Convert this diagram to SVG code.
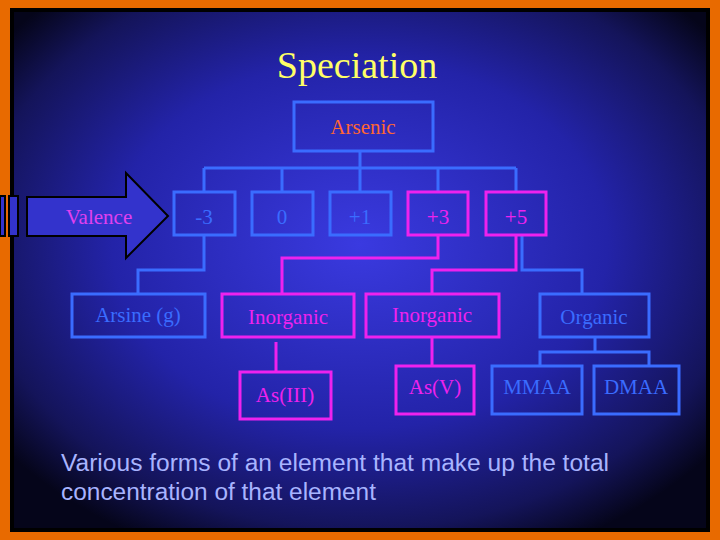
<svg xmlns="http://www.w3.org/2000/svg" width="720" height="540" viewBox="0 0 720 540">
<defs>
<radialGradient id="bg" cx="0.5" cy="0.45" r="0.65">
<stop offset="0" stop-color="#3a3ae0"/>
<stop offset="0.55" stop-color="#2323a8"/>
<stop offset="0.85" stop-color="#14145a"/>
<stop offset="1" stop-color="#05051a"/>
</radialGradient>
<style>
.b{fill:none;stroke:#3a6cff;stroke-width:3}
.m{fill:none;stroke:#ee22ee;stroke-width:3}
.t{font-family:"Liberation Serif",serif;font-size:21px;text-anchor:middle}
.tb{fill:#3a6cff}.tm{fill:#ee22ee}
</style>
</defs>
<rect width="720" height="540" fill="#e86a00"/>
<rect x="10" y="8" width="700" height="524" fill="#000"/>
<rect x="14" y="12" width="692" height="516" fill="url(#bg)"/>
<text x="357" y="78" font-family="Liberation Serif,serif" font-size="38" fill="#ffff66" text-anchor="middle">Speciation</text>
<g id="connectors">
<path class="b" d="M360 151V168M204 168H516M204 168V192M282 168V192M360 168V192M438 168V192M516 168V192"/>
<path class="b" d="M204 235V270H138V294"/>
<path class="m" d="M438 235V258H282V294"/>
<path class="m" d="M516 235V270H432V294"/>
<path class="b" d="M522 235V270H582V294"/>
<path class="m" d="M276 342V372M432 337V366"/>
<path class="b" d="M595 337V352M540 366V352H649V366"/>
</g>
<g id="valence">
<rect x="0" y="196" width="5" height="40" fill="#3333cc" stroke="#000" stroke-width="2"/>
<rect x="9" y="196" width="9" height="40" fill="#3333cc" stroke="#000" stroke-width="2"/>
<path d="M27 197H126V173L168 216L126 258V236H27Z" fill="#3333cc" stroke="#000" stroke-width="2"/>
<text class="t" fill="#e040f0" x="99" y="224">Valence</text>
</g>
<g id="arsenic"><rect class="b" x="294" y="102" width="139" height="49"/><text class="t" fill="#ff6633" x="363" y="134">Arsenic</text></g>
<g id="v-3"><rect class="b" x="174" y="192" width="61" height="43"/><text class="t tb" x="204" y="224">-3</text></g>
<g id="v0"><rect class="b" x="252" y="192" width="61" height="43"/><text class="t tb" x="282" y="224">0</text></g>
<g id="v1"><rect class="b" x="330" y="192" width="61" height="43"/><text class="t tb" x="360" y="224">+1</text></g>
<g id="v3"><rect class="m" x="408" y="192" width="60" height="43"/><text class="t tm" x="438" y="224">+3</text></g>
<g id="v5"><rect class="m" x="486" y="192" width="60" height="43"/><text class="t tm" x="516" y="224">+5</text></g>
<g id="arsine"><rect class="b" x="72" y="294" width="133" height="43"/><text class="t tb" x="138" y="322">Arsine (g)</text></g>
<g id="inorg1"><rect class="m" x="222" y="294" width="132" height="43"/><text class="t tm" x="288" y="324">Inorganic</text></g>
<g id="inorg2"><rect class="m" x="366" y="294" width="133" height="43"/><text class="t tm" x="432" y="322">Inorganic</text></g>
<g id="organic"><rect class="b" x="540" y="294" width="109" height="43"/><text class="t tb" x="594" y="324">Organic</text></g>
<g id="as3"><rect class="m" x="240" y="372" width="91" height="47"/><text class="t tm" x="285" y="402">As(III)</text></g>
<g id="as5"><rect class="m" x="396" y="366" width="78" height="48"/><text class="t tm" x="435" y="394">As(V)</text></g>
<g id="mmaa"><rect class="b" x="492" y="366" width="90" height="48"/><text class="t tb" x="537" y="394">MMAA</text></g>
<g id="dmaa"><rect class="b" x="594" y="366" width="85" height="48"/><text class="t tb" x="636" y="394">DMAA</text></g>
<text font-family="Liberation Sans,sans-serif" font-size="23" fill="#a8b4ff" x="61" y="471" textLength="548" lengthAdjust="spacingAndGlyphs">Various forms of an element that make up the total</text>
<text font-family="Liberation Sans,sans-serif" font-size="23" fill="#a8b4ff" x="61" y="500" textLength="315" lengthAdjust="spacingAndGlyphs">concentration of that element</text>
</svg>
